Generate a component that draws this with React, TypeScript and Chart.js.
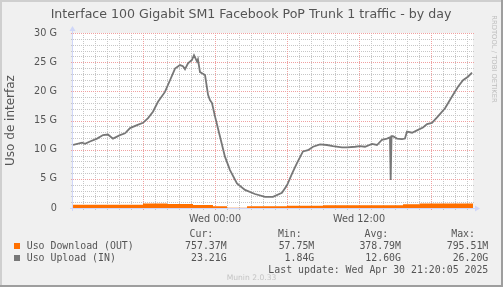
import React, { useEffect, useRef } from 'react';
import { Chart, registerables } from 'chart.js';

Chart.register(...registerables);

// ---------- texts ----------
const chartTitle = 'Interface 100 Gigabit SM1 Facebook PoP Trunk 1 traffic - by day';
const yAxisTitle = 'Uso de interfaz';
const watermark = 'RRDTOOL / TOBI OETIKER';
const footer = 'Munin 2.0.33';
const lastUpdate = 'Last update: Wed Apr 30 21:20:05 2025';

// ---------- axes ----------
const timeMin = -11.833; // hours relative to Wed 00:00
const timeMax = 21.5;
const xTickValues = [0, 12];
const xTickLabels = ['Wed 00:00', 'Wed 12:00'];
const yMin = 0;
const yMax = 30;
const yStep = 5;
const yUnit = ' G';
const minorXStep = 1;
const majorXStep = 6;
const minorYStep = 1;
const majorYStep = 5;

// ---------- series (hours, Gbit) ----------
const uploadTimes = [
  -11.83, -11.08, -10.83, -10.42, -9.83, -9.33, -8.92, -8.5, -7.92, -7.5, -7.08, -6.5, -6.0,
  -5.58, -5.17, -4.75, -4.17, -3.75, -3.33, -2.92, -2.67, -2.5, -2.25, -1.92, -1.75, -1.5,
  -1.42, -1.25, -1.08, -0.83, -0.58, -0.42, -0.25, 0, 0.42, 0.83, 1.25, 1.83, 2.5, 3.33,
  4.17, 4.83, 5.58, 6.0, 6.42, 6.83, 7.33, 7.75, 8.17, 8.75, 9.33, 9.83, 10.58, 11.0, 11.67,
  12.08, 12.5, 13.08, 13.5, 13.92, 14.33, 14.58, 14.64, 14.71, 14.83, 15.17, 15.58, 15.83,
  16.0, 16.42, 16.92, 17.33, 17.67, 18.08, 18.58, 19.17, 19.75, 20.25, 20.67, 21.08, 21.42,
];
const uploadValues = [
  10.8, 11.2, 11.0, 11.4, 11.9, 12.5, 12.6, 11.9, 12.5, 12.8, 13.7, 14.2, 14.6,
  15.4, 16.5, 18.2, 19.9, 21.9, 23.9, 24.5, 24.3, 23.8, 24.8, 25.4, 26.2, 25.1,
  25.5, 23.3, 23.1, 22.8, 19.4, 18.5, 18.0, 15.7, 12.2, 8.8, 6.5, 4.2, 3.1, 2.4,
  1.9, 1.9, 2.6, 3.9, 5.9, 7.7, 9.7, 9.9, 10.5, 10.9, 10.8, 10.6, 10.4, 10.4, 10.5,
  10.6, 10.5, 11.0, 10.8, 11.7, 11.9, 12.1, 4.8, 12.3, 12.3, 11.9, 11.8, 11.9,
  13.1, 12.9, 13.4, 13.8, 14.4, 14.6, 15.7, 17.1, 19.1, 20.8, 21.9, 22.5, 23.2,
];

const downloadTimes = [-11.83, -6, -4, -1.83, -0.17, 1, 2.67, 6, 9, 15.67, 17.08, 20.42, 21.5];
const downloadValues = [0.45, 0.55, 0.78, 0.68, 0.5, 0.32, 0.06, 0.3, 0.4, 0.46, 0.63, 0.76, 0.76];

// ---------- legend ----------
const legendLabels = ['Uso Download (OUT)', 'Uso Upload (IN)'];
const seriesColors = ['#FF7000', '#777777'];
const statHeaders = ['Cur:', 'Min:', 'Avg:', 'Max:'];
const downloadStats = ['757.37M', '57.75M', '378.79M', '795.51M'];
const uploadStats = ['23.21G', '1.84G', '12.60G', '26.20G'];

const TEXT = '#555555';
const SANS = '"DejaVu Sans", sans-serif';
const MONO = '"DejaVu Sans Mono", monospace';

function drawGrid(chart: any) {
  const { ctx, chartArea: a } = chart;
  const xs = chart.scales.x;
  const ys = chart.scales.y;
  ctx.save();
  ctx.lineWidth = 1;
  ctx.setLineDash([1, 1]);
  const drawH = (v: number, color: string) => {
    const y = Math.round(ys.getPixelForValue(v)) + 0.5;
    ctx.strokeStyle = color;
    ctx.beginPath();
    ctx.moveTo(a.left - 2, y);
    ctx.lineTo(a.right + 1, y);
    ctx.stroke();
  };
  const drawV = (h: number, color: string) => {
    const x = Math.round(xs.getPixelForValue(h)) + 0.5;
    ctx.strokeStyle = color;
    ctx.beginPath();
    ctx.moveTo(x, a.top);
    ctx.lineTo(x, a.bottom + 2);
    ctx.stroke();
  };
  const minorColor = '#C6C6C6';
  const majorColor = '#F0A0A0';
  for (let v = yMin + minorYStep; v <= yMax; v += minorYStep) {
    if (v % majorYStep !== 0) drawH(v, minorColor);
  }
  for (let h = Math.ceil(timeMin); h <= timeMax; h += minorXStep) {
    if (h % majorXStep !== 0) drawV(h, minorColor);
  }
  for (let v = yMin + majorYStep; v <= yMax; v += majorYStep) drawH(v, majorColor);
  for (let h = Math.ceil(timeMin / majorXStep) * majorXStep; h <= timeMax; h += majorXStep) drawV(h, majorColor);
  ctx.restore();
}

function drawAxes(chart: any) {
  const { ctx, chartArea: a } = chart;
  ctx.save();
  ctx.strokeStyle = '#CFD6F8';
  ctx.fillStyle = '#CFD6F8';
  ctx.lineWidth = 1;
  ctx.setLineDash([]);
  ctx.beginPath();
  ctx.moveTo(a.left - 3, a.bottom + 0.5);
  ctx.lineTo(a.right + 4, a.bottom + 0.5);
  ctx.stroke();
  ctx.beginPath();
  ctx.moveTo(a.right + 2, a.bottom - 2.5);
  ctx.lineTo(a.right + 7, a.bottom + 0.5);
  ctx.lineTo(a.right + 2, a.bottom + 3.5);
  ctx.closePath();
  ctx.fill();
  ctx.beginPath();
  ctx.moveTo(a.left - 0.5, a.bottom + 3);
  ctx.lineTo(a.left - 0.5, a.top - 4);
  ctx.stroke();
  ctx.beginPath();
  ctx.moveTo(a.left - 3.5, a.top - 2);
  ctx.lineTo(a.left - 0.5, a.top - 7);
  ctx.lineTo(a.left + 2.5, a.top - 2);
  ctx.closePath();
  ctx.fill();
  ctx.restore();
}

const muninPlugin = {
  id: 'munin',
  beforeDraw(chart: any) {
    const { ctx, chartArea: a, width, height } = chart;
    ctx.save();
    ctx.fillStyle = '#F0F0F0';
    ctx.fillRect(0, 0, width, height);
    ctx.fillStyle = '#FFFFFF';
    ctx.fillRect(a.left, a.top, a.right - a.left, a.bottom - a.top);
    ctx.restore();
    drawGrid(chart);
  },
  afterDraw(chart: any) {
    const { ctx, width, height } = chart;
    drawAxes(chart);
    ctx.save();
    // title
    ctx.fillStyle = TEXT;
    ctx.font = `12.6px ${SANS}`;
    ctx.textAlign = 'center';
    ctx.textBaseline = 'alphabetic';
    ctx.fillText(chartTitle, 251, 17.5);

    // legend
    ctx.font = `9.9px ${MONO}`;
    const headerRight = [213.3, 301.7, 388.3, 475];
    const valueRight = [226.7, 314.3, 401, 488.3];
    ctx.textAlign = 'right';
    statHeaders.forEach((t, i) => ctx.fillText(t, headerRight[i], 237));
    downloadStats.forEach((t, i) => ctx.fillText(t, valueRight[i], 249));
    uploadStats.forEach((t, i) => ctx.fillText(t, valueRight[i], 261));
    ctx.fillText(lastUpdate, 488.3, 273);
    ctx.textAlign = 'left';
    legendLabels.forEach((t, i) => {
      ctx.fillStyle = seriesColors[i];
      ctx.fillRect(14, 243 + i * 12, 6, 6);
      ctx.fillStyle = TEXT;
      ctx.fillText(t, 26.7, 249 + i * 12);
    });

    // footer
    ctx.fillStyle = '#C4C4C4';
    ctx.font = `7.6px ${SANS}`;
    ctx.textAlign = 'center';
    ctx.fillText(footer, 251.5, 279.5);

    // watermark
    ctx.save();
    ctx.translate(493.5, 59);
    ctx.rotate(Math.PI / 2);
    ctx.fillStyle = '#BDBDBD';
    ctx.font = `6.8px ${SANS}`;
    ctx.textAlign = 'center';
    ctx.textBaseline = 'middle';
    ctx.fillText(watermark, 0, 0);
    ctx.restore();

    // frame
    ctx.fillStyle = '#CFCFCF';
    ctx.fillRect(0, 0, width, 2);
    ctx.fillRect(0, 0, 2, height);
    ctx.fillStyle = '#9E9E9E';
    ctx.fillRect(0, height - 2, width, 2);
    ctx.fillRect(width - 2, 0, 2, height);
    ctx.restore();
  },
};

export default function App() {
  const ref = useRef<HTMLCanvasElement>(null);
  useEffect(() => {
    document.body.style.margin = '0';
    const chart = new Chart(ref.current as HTMLCanvasElement, {
      type: 'line',
      data: {
        datasets: [
          {
            label: legendLabels[1],
            data: uploadTimes.map((t, i) => ({ x: t, y: uploadValues[i] })),
            borderColor: seriesColors[1],
            borderWidth: 1.8,
            pointRadius: 0,
            fill: false,
            tension: 0,
            order: 0,
          },
          {
            label: legendLabels[0],
            data: downloadTimes.map((t, i) => ({ x: t, y: downloadValues[i] })),
            borderColor: seriesColors[0],
            backgroundColor: seriesColors[0],
            borderWidth: 0,
            pointRadius: 0,
            stepped: 'after',
            fill: 'origin',
            order: 1,
          },
        ],
      },
      options: {
        responsive: false,
        animation: false,
        devicePixelRatio: 1,
        layout: { padding: { left: 0, top: 33, right: 30, bottom: 59 } },
        plugins: {
          legend: { display: false },
          tooltip: { enabled: false },
          title: { display: false },
        },
        scales: {
          x: {
            type: 'linear',
            min: timeMin,
            max: timeMax,
            grid: { display: false },
            border: { display: false },
            afterBuildTicks: (s: any) => {
              s.ticks = xTickValues.map((v) => ({ value: v }));
            },
            afterFit: (s: any) => {
              s.height = 20;
            },
            ticks: {
              autoSkip: false,
              maxRotation: 0,
              padding: -2,
              color: TEXT,
              font: { family: SANS, size: 9.7 },
              callback: (v: any) => {
                const i = xTickValues.indexOf(Number(v));
                return i >= 0 ? xTickLabels[i] : '';
              },
            },
          },
          y: {
            type: 'linear',
            min: yMin,
            max: yMax,
            grid: { display: false },
            border: { display: false },
            afterFit: (s: any) => {
              s.width = 73;
            },
            title: {
              display: true,
              text: yAxisTitle,
              color: TEXT,
              font: { family: SANS, size: 12 },
              padding: { top: 4, bottom: 0 },
            },
            ticks: {
              stepSize: yStep,
              padding: 8,
              color: TEXT,
              font: { family: SANS, size: 9.7 },
              callback: (v: any) => (Number(v) === 0 ? '0' : `${v}${yUnit}`),
            },
          },
        },
      },
      plugins: [muninPlugin],
    });
    return () => chart.destroy();
  }, []);
  return (
    <div style={{ position: 'absolute', left: 0, top: 0, width: 503, height: 287 }}>
      <canvas ref={ref} width={503} height={287} style={{ display: 'block' }} />
    </div>
  );
}
